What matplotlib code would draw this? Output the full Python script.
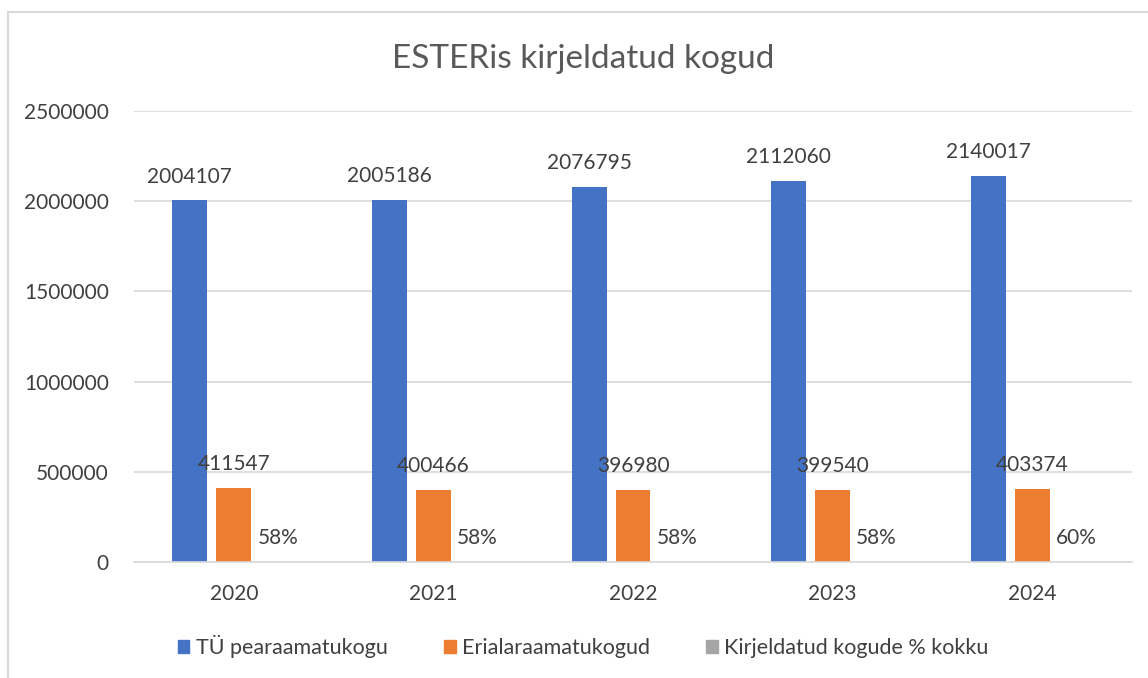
import numpy as np
import matplotlib.pyplot as plt
from matplotlib.lines import Line2D
from matplotlib.patches import Patch

plt.rcParams['font.family'] = ['Lato', 'DejaVu Sans']

aastad = ['2020', '2021', '2022', '2023', '2024']
peakogu = [2004107, 2005186, 2076795, 2112060, 2140017]
eriala = [411547, 400466, 396980, 399540, 403374]
protsent = [0.58, 0.58, 0.58, 0.58, 0.60]

sinine = '#4472C4'
oranz = '#ED7D31'
hall = '#A5A5A5'
tekst = '#404040'

fig = plt.figure(figsize=(11.48, 6.78), dpi=100)
ax = fig.add_axes([0.1167, 0.1711, 0.8694, 0.6652])

x = np.arange(len(aastad))
w = 0.175
s = 0.22
b1 = ax.bar(x - s, peakogu, w, color=sinine)
b2 = ax.bar(x, eriala, w, color=oranz)
b3 = ax.bar(x + s, protsent, w, color=hall)

ax.bar_label(b1, labels=[str(v) for v in peakogu], padding=10, fontsize=15, color=tekst)
ax.bar_label(b2, labels=[str(v) for v in eriala], padding=10, fontsize=15, color=tekst)
ax.bar_label(b3, labels=['{:.0f}%'.format(v * 100) for v in protsent], padding=10, fontsize=15, color=tekst)

ax.set_xlim(-0.5, len(aastad) - 0.5)
ax.set_ylim(0, 2500000)
ax.set_yticks(np.arange(0, 2500001, 500000))
ax.set_yticklabels([str(v) for v in range(0, 2500001, 500000)])
ax.set_xticks(x)
ax.set_xticklabels(aastad)
ax.tick_params(axis='both', length=0, labelsize=15, labelcolor=tekst)
ax.tick_params(axis='y', pad=18)
ax.tick_params(axis='x', pad=16)
ax.grid(axis='y', color='#D9D9D9', linewidth=1.2)
ax.set_axisbelow(True)
for sp in ['top', 'right', 'left']:
    ax.spines[sp].set_visible(False)
ax.spines['bottom'].set_color('#D9D9D9')
ax.spines['bottom'].set_linewidth(1.2)

fig.text(0.508, 0.913, 'ESTERis kirjeldatud kogud', ha='center', va='center', fontsize=24, color='#595959')

handles = [Patch(color=sinine), Patch(color=oranz), Patch(color=hall)]
fig.legend(handles, ['TÜ pearaamatukogu', 'Erialaraamatukogud', 'Kirjeldatud kogude % kokku'],
           loc='center', bbox_to_anchor=(0.508, 0.047), ncol=3, frameon=False,
           fontsize=15.5, labelcolor=tekst, handlelength=0.55, handleheight=0.55,
           handletextpad=0.3, columnspacing=2.6)

# raam
fig.add_artist(Line2D([8 / 1148, 1], [1 - 12 / 678, 1 - 12 / 678], color='#D9D9D9', lw=1.5))
fig.add_artist(Line2D([8 / 1148, 8 / 1148], [0, 1 - 12 / 678], color='#D9D9D9', lw=1.5))

fig.savefig('out.png', dpi=100)
